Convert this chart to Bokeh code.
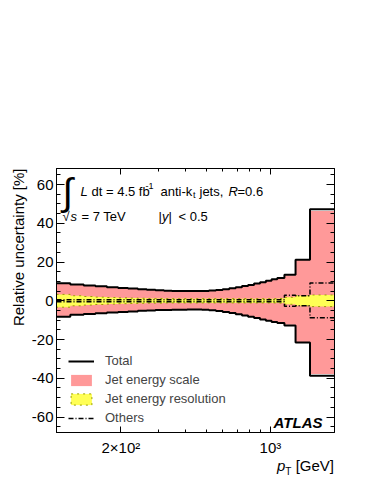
import numpy as np
from bokeh.plotting import figure
from bokeh.layouts import column
from bokeh.models import (Range1d, FixedTicker, LinearAxis, LogAxis, Label, Legend,
                          LegendItem, Title, Div)
from bokeh.embed import file_html
from bokeh.resources import INLINE

# ---------------- data ----------------
edges = [100, 116, 134, 152, 172, 194, 216, 240, 264, 290, 318, 346, 376, 408, 442,
         478, 516, 556, 598, 642, 688, 736, 786, 838, 894, 952, 1012, 1076, 1162,
         1310, 1530, 1992]

total_up = [9.0, 8.4, 7.9, 7.5, 7.0, 6.6, 6.3, 6.0, 5.7, 5.4, 5.2, 5.1, 5.0, 5.0, 5.0,
            5.1, 5.3, 5.6, 6.0, 6.5, 7.0, 7.6, 8.2, 8.9, 9.6, 10.3, 11.1, 11.8, 13.5,
            21.2, 47.2]
total_down = [-8.2, -7.2, -6.8, -6.4, -6.1, -5.8, -5.5, -5.2, -5.0, -4.8, -4.7, -4.6, -4.6,
              -4.5, -4.5, -4.6, -4.9, -5.3, -5.8, -6.3, -7.0, -7.6, -8.2, -8.9, -9.6,
              -10.3, -10.9, -11.5, -12.7, -21.5, -38.7]

jes_up = [8.9, 8.3, 7.8, 7.4, 6.9, 6.5, 6.2, 5.9, 5.6, 5.3, 5.1, 5.0, 4.9, 4.9, 4.9,
          5.0, 5.2, 5.5, 5.9, 6.4, 6.9, 7.5, 8.1, 8.8, 9.5, 10.2, 11.0, 11.7, 13.2,
          21.0, 46.3]
jes_down = [-8.1, -7.1, -6.7, -6.3, -6.0, -5.7, -5.4, -5.1, -4.9, -4.7, -4.6, -4.5, -4.5,
            -4.4, -4.4, -4.5, -4.8, -5.2, -5.7, -6.2, -6.9, -7.5, -8.1, -8.8, -9.5,
            -10.2, -10.8, -11.4, -12.4, -21.3, -37.8]

jer = [3.3, 2.6, 2.2, 1.9, 1.7, 1.5, 1.4, 1.3, 1.2, 1.2, 1.1, 1.1, 1.1, 1.1, 1.1,
       1.1, 1.1, 1.1, 1.1, 1.1, 1.1, 1.1, 1.1, 1.1, 1.1, 1.1, 1.1, 1.2, 1.8, 2.6, 3.0]

others_up = [0.5] * 28 + [2.9, 2.6, 9.2]
others_down = [-0.5] * 28 + [-2.8, -2.6, -8.7]

y_ticks = [-60, -40, -20, 0, 20, 40, 60]
y_minor = list(range(-65, 70, 5))
x_ticks = [200, 1000]
x_tick_labels = ["2×10²", "10³"]
x_minor = [100, 300, 400, 500, 600, 700, 800, 900, 2000]

# ---------------- figure ----------------
FONT = "Liberation Sans"
FL, FT, FR, FB = 56, 168, 334, 433   # frame edges in page pixels
W, H = 350, 458

p = figure(width=W, height=H, x_axis_type="log",
           x_range=Range1d(100, 1992), y_range=Range1d(-68, 68.3),
           output_backend="svg", toolbar_location=None,
           min_border_left=FL, min_border_right=W - FR, min_border_top=FT,
           min_border_bottom=H - FB)
p.grid.visible = False
p.outline_line_color = "black"
p.outline_line_width = 1
p.background_fill_color = "white"
p.border_fill_color = "white"


def step_xy(e, vals):
    xs = np.repeat(np.asarray(e, float), 2)[1:-1]
    ys = np.repeat(np.asarray(vals, float), 2)
    return xs, ys


def band(up, down):
    xu, yu = step_xy(edges, up)
    xd, yd = step_xy(edges, down)
    return np.concatenate([xu, xd[::-1]]), np.concatenate([yu, yd[::-1]])


bx, by = band(jes_up, jes_down)
r_jes = p.patch(bx, by, fill_color="#ff9999", line_color=None)

jx, jy = band(jer, [-v for v in jer])
r_jer = p.patch(jx, jy, fill_color="#ffff55", line_color="#9aa000",
                line_dash="dotted", line_width=1)

ox, oy = step_xy(edges, others_up)
r_oth = p.line(ox, oy, line_color="black", line_width=1.5, line_dash="5 2 1 2")
ox2, oy2 = step_xy(edges, others_down)
p.line(ox2, oy2, line_color="black", line_width=1.5, line_dash="5 2 1 2")

tx, ty = step_xy(edges, total_up)
r_tot = p.line(tx, ty, line_color="black", line_width=2)
tx2, ty2 = step_xy(edges, total_down)
p.line(tx2, ty2, line_color="black", line_width=2)

# ---------------- axes ----------------
xt = FixedTicker(ticks=x_ticks, minor_ticks=x_minor)
yt = FixedTicker(ticks=y_ticks, minor_ticks=y_minor)


def style(ax, major_in, minor_in):
    ax.major_tick_in = major_in
    ax.major_tick_out = 0
    ax.minor_tick_in = minor_in
    ax.minor_tick_out = 0
    ax.axis_line_color = "black"
    ax.major_tick_line_color = "black"
    ax.minor_tick_line_color = "black"
    ax.major_label_text_font = FONT
    ax.major_label_text_font_size = "15px"
    ax.major_label_text_color = "black"


xa = p.xaxis[0]
xa.ticker = xt
xa.major_label_overrides = dict(zip(x_ticks, x_tick_labels))
xa.major_label_standoff = 6
style(xa, 6, 3)

ya = p.yaxis[0]
ya.ticker = yt
ya.major_label_overrides = {t: str(t) for t in y_ticks}
ya.major_label_standoff = 3
style(ya, 8, 4)

top = LogAxis(ticker=xt, major_label_overrides={t: "" for t in x_ticks})
style(top, 6, 3)
top.major_label_standoff = 0
p.add_layout(top, "above")

right = LinearAxis(ticker=yt, major_label_overrides={t: "" for t in y_ticks})
style(right, 8, 4)
right.major_label_standoff = 0
p.add_layout(right, "right")

ytitle = Title(text="Relative uncertainty [%]", align="right", text_font=FONT,
               text_font_size="15px", text_font_style="normal", text_color="black",
               standoff=3)
p.add_layout(ytitle, "left")

# ---------------- legend ----------------
legend = Legend(items=[LegendItem(label="Total", renderers=[r_tot]),
                       LegendItem(label="Jet energy scale", renderers=[r_jes]),
                       LegendItem(label="Jet energy resolution", renderers=[r_jer]),
                       LegendItem(label="Others", renderers=[r_oth])],
                location=(12, 7), orientation="vertical",
                background_fill_alpha=0, border_line_color=None,
                padding=0, margin=0, spacing=4,
                glyph_width=26, glyph_height=14, label_height=14,
                label_standoff=11, label_text_font=FONT,
                label_text_font_size="13px")
p.add_layout(legend)


# ---------------- texts inside the frame ----------------
def lab(text, xi, yi, size, style="normal", align="left"):
    p.add_layout(Label(x=xi - FL, y=FB - yi, x_units="screen", y_units="screen",
                       text=text, text_font=FONT, text_font_size=f"{size}px",
                       text_font_style=style, text_align=align,
                       text_baseline="alphabetic", text_color="black"))


# line 1
lab("∫", 62, 192, 38)
lab("L", 80, 192, 13, "italic")
lab("dt = 4.5 fb", 91, 192, 13)
lab("-1", 145, 186, 9)
lab("anti-k", 160, 192, 13)
lab("t", 192.5, 195, 9)
lab("jets,", 199, 192, 13)
lab("R", 228, 192, 13, "italic")
lab("=0.6", 237, 192, 13)
# line 2
lab("√", 62, 217, 13)
lab("s", 70, 217, 13, "italic")
lab("= 7 TeV", 81, 217, 13)
lab("|", 158, 217, 13)
lab("y", 161.5, 217, 13, "italic")
lab("|", 168, 217, 13)
lab("< 0.5", 178, 217, 13)

lab("ATLAS", 322, 423, 15, "bold italic", align="right")

# ---------------- x axis title ----------------
xtitle = Div(text='<i>p</i><sub style="font-size:10px">T</sub> [GeV]',
             width=FR, height=26, margin=0,
             styles={"text-align": "right", "font-family": FONT, "font-size": "15px",
                     "line-height": "15px", "color": "black"})

layout = column(p, xtitle, spacing=0)
open("out.html", "w").write(file_html(layout, INLINE))
